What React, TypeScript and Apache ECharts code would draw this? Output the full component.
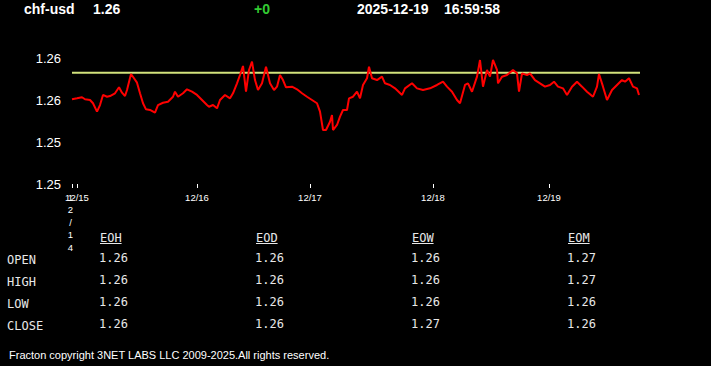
import React, { useEffect, useRef } from "react";
import * as echarts from "echarts";

// ---- header ----
const symbolName = "chf-usd";
const lastPrice = "1.26";
const changeText = "+0";
const dateText = "2025-12-19";
const timeText = "16:59:58";

// ---- price series (t = bar index, price) ----
const times = [
  0, 5, 10, 13, 18, 21, 25, 28, 31, 35, 38, 43, 47, 50, 53, 55, 59, 62, 65, 68,
  71, 74, 78, 83, 86, 91, 96, 101, 103, 106, 111, 115, 120, 125, 130, 135, 137,
  141, 145, 148, 153, 158, 161, 165, 168, 171, 174, 177, 180, 183, 186, 190, 194,
  198, 202, 205, 208, 211, 214, 220, 225, 230, 235, 240, 245, 248, 251, 254, 258,
  260, 261, 265, 268, 271, 275, 277, 281, 285, 288, 291, 295, 297, 300, 305, 310,
  313, 318, 323, 330, 333, 340, 345, 351, 358, 365, 371, 375, 380, 385, 388, 393,
  396, 400, 405, 408, 411, 415, 418, 421, 425, 426, 430, 435, 441, 445, 447, 450,
  455, 458, 463, 468, 473, 478, 482, 486, 491, 495, 500, 505, 510, 515, 521, 525,
  527, 531, 535, 540, 545, 550, 553, 557, 561, 565, 567,
];
const prices = [
  1.25607, 1.25616, 1.25626, 1.25607, 1.256, 1.25569, 1.25489, 1.25552, 1.25648,
  1.25631, 1.25638, 1.25664, 1.25721, 1.2567, 1.25638, 1.25695, 1.25848, 1.25807,
  1.25765, 1.25664, 1.25569, 1.25511, 1.25505, 1.25479, 1.25552, 1.25574, 1.25584,
  1.25631, 1.25679, 1.25631, 1.25664, 1.25702, 1.25679, 1.25648, 1.256, 1.25552,
  1.25536, 1.25552, 1.25521, 1.256, 1.25648, 1.25616, 1.25664, 1.25759, 1.25838,
  1.25924, 1.25679, 1.25886, 1.25965, 1.2579, 1.25695, 1.25759, 1.25917, 1.25759,
  1.25695, 1.25727, 1.25838, 1.2579, 1.25721, 1.25727, 1.25702, 1.25664, 1.25631,
  1.256, 1.25569, 1.25489, 1.25314, 1.25314, 1.25393, 1.25457, 1.25314, 1.25362,
  1.25441, 1.25505, 1.25505, 1.25616, 1.25631, 1.25679, 1.25616, 1.25743, 1.25807,
  1.25917, 1.25807, 1.2579, 1.25822, 1.25759, 1.25743, 1.25711, 1.25648, 1.25711,
  1.25759, 1.25711, 1.25695, 1.25711, 1.25743, 1.25774, 1.25727, 1.25679, 1.256,
  1.25569, 1.25743, 1.25759, 1.25679, 1.25822, 1.25981, 1.25727, 1.25886, 1.25822,
  1.25981, 1.25886, 1.25759, 1.25822, 1.25838, 1.25886, 1.25854, 1.25679, 1.25854,
  1.25838, 1.25854, 1.2579, 1.25759, 1.25727, 1.25743, 1.25774, 1.25727, 1.25711,
  1.25648, 1.25727, 1.25774, 1.25727, 1.25679, 1.25631, 1.25727, 1.25848, 1.25727,
  1.256, 1.25695, 1.25743, 1.2579, 1.25774, 1.25807, 1.25727, 1.25711, 1.25648,
];
const referenceLevel = 1.2586;

// ---- axes ----
const xMin = 0;
const xMax = 568;
const xTickPositions = [0, 5, 125, 238, 361, 477];
const xTickLabels = ["12/14", "12/15", "12/16", "12/17", "12/18", "12/19"];
const yMin = 1.248;
const yMax = 1.26;
const yInterval = 0.004;

// ---- table ----
const tableRows = ["OPEN", "HIGH", "LOW", "CLOSE"];
const tableCols = ["EOH", "EOD", "EOW", "EOM"];
const eohValues = [1.26, 1.26, 1.26, 1.26];
const eodValues = [1.26, 1.26, 1.26, 1.26];
const eowValues = [1.26, 1.26, 1.26, 1.27];
const eomValues = [1.27, 1.27, 1.26, 1.26];
const footerText = "Fracton copyright 3NET LABS LLC 2009-2025.All rights reserved.";

const SANS = "Liberation Sans, Arial, sans-serif";
const MONO = "DejaVu Sans Mono, Liberation Mono, monospace";

function txt(x: number, y: number, text: string, fill: string, fontSize: number, fontFamily: string, fontWeight: string = "normal") {
  return {
    type: "text",
    x,
    y,
    silent: true,
    style: {
      text,
      fill,
      fontSize,
      fontFamily,
      fontWeight,
      align: "left",
      textAlign: "left",
      verticalAlign: "middle",
      textVerticalAlign: "middle",
    },
  };
}

function labelFor(v: number) {
  const i = xTickPositions.indexOf(Math.round(v));
  return i < 0 ? "" : xTickLabels[i];
}

export default function App() {
  const ref = useRef<HTMLDivElement>(null);
  useEffect(() => {
    document.body.style.margin = "0";
    document.body.style.background = "#000";
    if (!ref.current) return;
    const chart = echarts.init(ref.current, undefined, { renderer: "svg" });

    const colValues = [eohValues, eodValues, eowValues, eomValues];
    const colX = [99, 255, 411, 567];
    const rowY = [259, 281, 303, 325];
    const headerY = 238;
    const graphics: any[] = [
      txt(24, 9, symbolName, "#ffffff", 14, SANS, "bold"),
      txt(93, 9, lastPrice, "#ffffff", 14, SANS, "bold"),
      txt(254, 9, changeText, "#33cc33", 14, SANS, "bold"),
      txt(357, 9, dateText, "#ffffff", 14, SANS, "bold"),
      txt(444, 9, timeText, "#ffffff", 14, SANS, "bold"),
      txt(9, 355, footerText, "#ffffff", 11, SANS),
    ];
    tableCols.forEach((c, i) => {
      graphics.push(txt(colX[i] + 1, headerY, c, "#e8e8e8", 12, MONO));
      graphics.push({
        type: "line",
        silent: true,
        shape: { x1: colX[i] + 1, y1: 243.5, x2: colX[i] + 1 + c.length * 7.2, y2: 243.5 },
        style: { stroke: "#e8e8e8", lineWidth: 1 },
      });
      colValues[i].forEach((v, r) => {
        graphics.push(txt(colX[i], rowY[r] - 1, v.toFixed(2), "#e8e8e8", 12, MONO));
      });
    });
    tableRows.forEach((r, j) => {
      graphics.push(txt(7, rowY[j] + 1, r, "#e8e8e8", 12, MONO));
    });

    const labelBase = {
      show: true,
      color: "#ffffff",
      fontSize: 9.5,
      fontFamily: SANS,
      lineHeight: 12.5,
      margin: 7,
      hideOverlap: false,
    };

    chart.setOption({
      animation: false,
      backgroundColor: "#000000",
      grid: { left: 72, right: 71, top: 58, bottom: 182, containLabel: false },
      xAxis: [
        {
          type: "value",
          min: xMin,
          max: xMax,
          position: "bottom",
          splitLine: { show: false },
          axisLine: { show: false },
          axisTick: {
            show: true,
            length: 4,
            customValues: xTickPositions,
            lineStyle: { color: "#ffffff", width: 1 },
          },
          axisLabel: {
            ...labelBase,
            customValues: xTickPositions.slice(1),
            formatter: (v: number) => labelFor(v),
          },
        },
        {
          type: "value",
          min: xMin,
          max: xMax,
          position: "bottom",
          offset: 0,
          splitLine: { show: false },
          axisLine: { show: false },
          axisTick: { show: false },
          axisLabel: {
            ...labelBase,
            customValues: xTickPositions.slice(0, 1),
            padding: [0, 3, 0, 0],
            formatter: (v: number) => labelFor(v).split("").join("\n"),
          },
        },
      ],
      yAxis: {
        type: "value",
        min: yMin,
        max: yMax,
        interval: yInterval,
        splitLine: { show: false },
        axisLine: { show: false },
        axisTick: { show: false },
        axisLabel: {
          color: "#ffffff",
          fontSize: 13,
          fontFamily: SANS,
          margin: 11,
          formatter: (v: number) => v.toFixed(2),
        },
      },
      series: [
        {
          type: "line",
          xAxisIndex: 1,
          data: [
            [xMin, referenceLevel],
            [xMax, referenceLevel],
          ],
          showSymbol: false,
          symbol: "none",
          silent: true,
          lineStyle: { color: "#d2e27c", width: 2 },
          z: 2,
        },
        {
          type: "line",
          xAxisIndex: 0,
          data: times.map((t, i) => [t, prices[i]]),
          showSymbol: false,
          symbol: "none",
          lineStyle: { color: "#ff0000", width: 2 },
          z: 3,
        },
      ],
      graphic: graphics,
    });
    return () => chart.dispose();
  }, []);
  return (
    <div
      ref={ref}
      style={{ position: "absolute", left: 0, top: 0, width: 711, height: 366, background: "#000" }}
    />
  );
}
